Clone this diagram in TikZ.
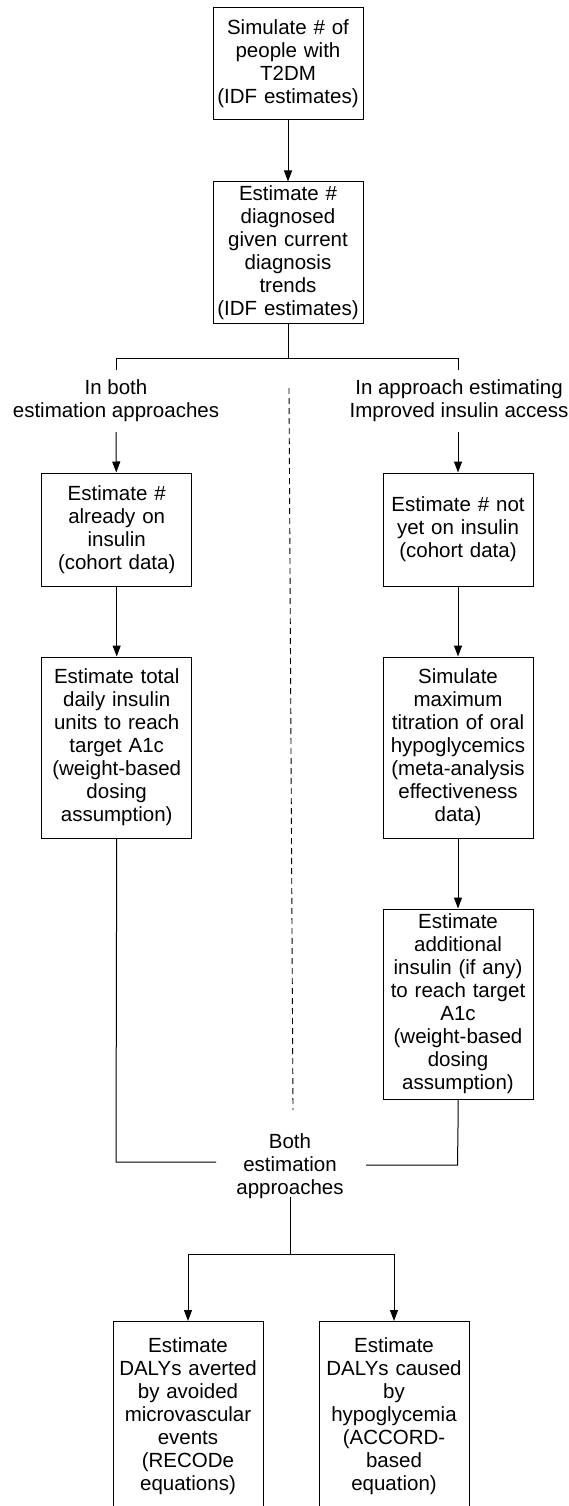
\documentclass[tikz,border=0pt]{standalone}
\usepackage{fontspec}
\setmainfont{Liberation Sans}
\usetikzlibrary{arrows.meta}
\begin{document}
\begin{tikzpicture}[x=1pt,y=-1pt,
  every node/.style={font=\fontsize{20.5}{23}\selectfont},
  box/.style={draw, line width=1pt, align=center, text width=146pt, inner xsep=2pt, inner ysep=0pt},
  lbl/.style={align=center, inner sep=0pt},
  conn/.style={line width=1pt},
  arr/.style={line width=1pt, -{Triangle[length=11pt,width=8pt]}}]
\useasboundingbox (0,0) rectangle (569,1506);
\clip (0,0) rectangle (569,1506);
% top chain
\node[box, minimum height=112pt] (b1) at (288,64) {Simulate \# of\\people with\\T2DM\\(IDF estimates)};
\node[box, minimum height=141pt] (b2) at (288,252.5) {Estimate \#\\diagnosed\\given current\\diagnosis\\trends\\(IDF estimates)};
\draw[arr] (b1) -- (b2);
% split
\coordinate (s0) at (288,358);
\coordinate (sl) at (116,358);
\coordinate (sr) at (458,358);
\coordinate (sl2) at (116,370);
\coordinate (sr2) at (458,370);
\draw[conn] (b2.south) -- (s0);
\draw[conn] (sl2) -- (sl) -- (sr) -- (sr2);
\node[lbl] (l1) at (116,401) {In both\\estimation approaches};
\node[lbl] (l2) at (459,401) {In approach estimating\\Improved insulin access};
% left column
\node[box, minimum height=113pt] (b3) at (116.7,529.5) {Estimate \#\\already on\\insulin\\(cohort data)};
\node[box, minimum height=181pt] (b5) at (116.7,747.5) {Estimate total\\daily insulin\\units to reach\\target A1c\\(weight-based\\dosing\\assumption)};
% right column
\node[box, minimum height=113pt] (b4) at (458,529.5) {Estimate \# not\\yet on insulin\\(cohort data)};
\node[box, minimum height=181pt] (b6) at (458,747.5) {Simulate\\maximum\\titration of oral\\hypoglycemics\\(meta-analysis\\effectiveness\\data)};
\node[box, minimum height=190pt] (b7) at (458,1004) {Estimate\\additional\\insulin (if any)\\to reach target\\A1c\\(weight-based\\dosing\\assumption)};
\coordinate (a1) at (116,432);
\coordinate (a2) at (458,432);
\draw[arr] (a1) -- (b3);
\draw[arr] (a2) -- (b4);
\draw[arr] (b3) -- (b5);
\draw[arr] (b4) -- (b6);
\draw[arr] (b6) -- (b7);
% dashed divider
\coordinate (d0) at (289,388);
\coordinate (d1) at (293,1110);
\draw[line width=0.9pt, dash pattern=on 6pt off 4pt] (d0) -- (d1);
% merge
\node[lbl] (both) at (290,1166) {Both\\estimation\\approaches};
\coordinate (ml) at (116,1162);
\coordinate (mle) at (216,1162);
\coordinate (mr) at (457.5,1165);
\coordinate (mre) at (366,1165);
\draw[conn] (b5.south) -- (ml) -- (mle);
\draw[conn] (b7.south) -- (458,1127) -- (mr) -- (mre);
\coordinate (m0) at (290,1197);
\coordinate (m1) at (290,1254);
\coordinate (m2) at (188,1254);
\coordinate (m3) at (394,1254);
\draw[conn] (m0) -- (m1);
\draw[conn] (m2) -- (m3);
% bottom boxes
\node[box, anchor=north] (e1) at (188,1321) {\parbox[t][220pt][t]{146pt}{\centering\vspace*{16pt}Estimate\\DALYs averted\\by avoided\\microvascular\\events\\(RECODe\\equations)}};
\node[box, anchor=north] (e2) at (394,1321) {\parbox[t][220pt][t]{146pt}{\centering\vspace*{16pt}Estimate\\DALYs caused\\by\\hypoglycemia\\(ACCORD-\\based\\equation)}};
\draw[arr] (m2) -- (e1);
\draw[arr] (m3) -- (e2);
\end{tikzpicture}
\end{document}
